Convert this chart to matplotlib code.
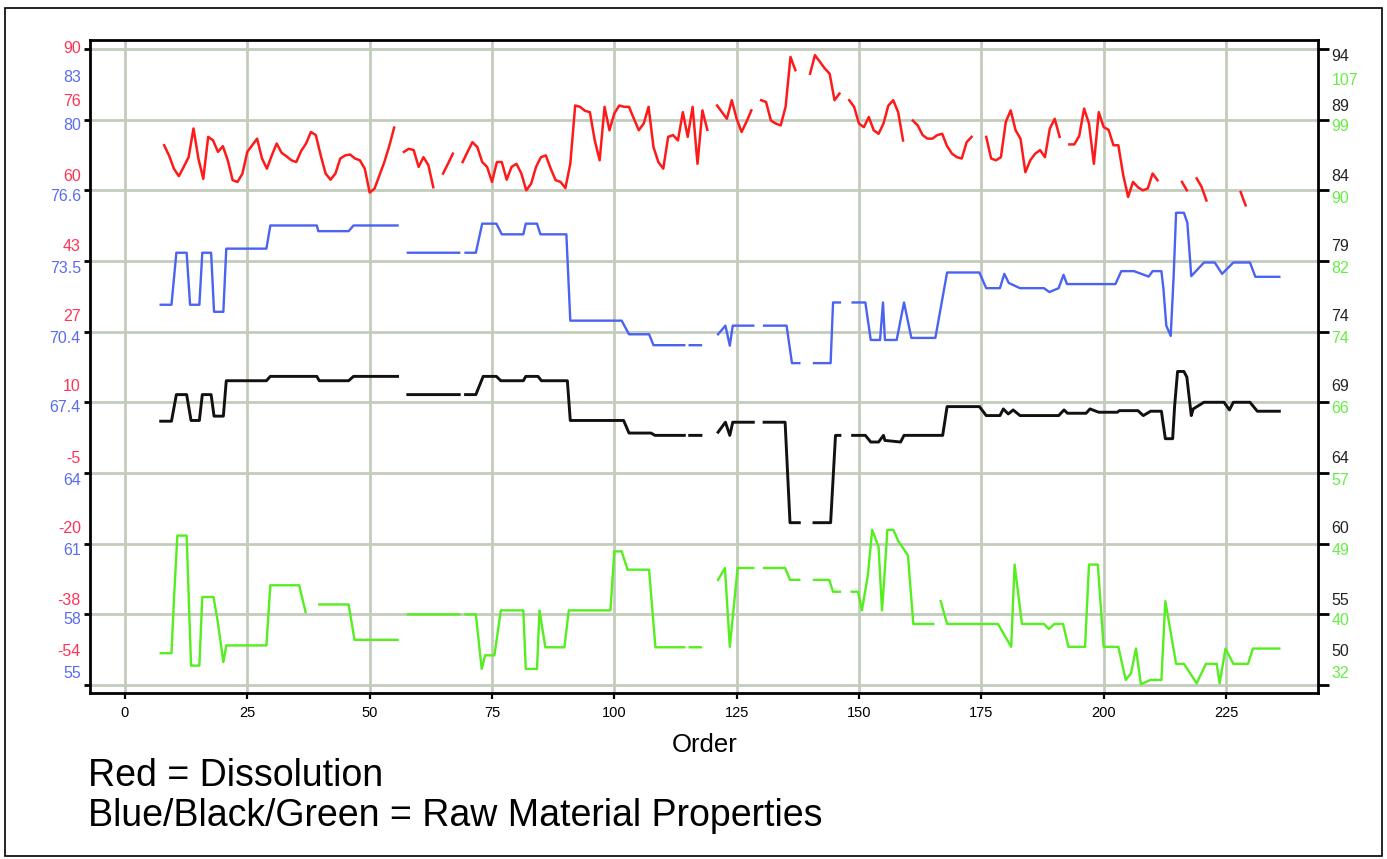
import numpy as np
import matplotlib.pyplot as plt
from matplotlib.patches import Rectangle
import matplotlib.transforms as mtransforms

plt.rcParams['font.family'] = ['Liberation Sans', 'DejaVu Sans']
nan = np.nan

# dissolution, one value per order (8 .. 229), nan = missing
red_order = np.arange(8, 230)
red_vals = [
    68.2, 65.9, 62.9, 61.2, 63.3, 65.5, 72.0, 65.2, 60.6, 70.1,   # 8-17
    69.3, 66.7, 68.0, 64.8, 60.3, 59.9, 61.8, 66.7, 68.2, 69.7,   # 18-27
    65.2, 62.9, 65.9, 68.6, 66.5, 65.7, 64.8, 64.4, 66.9, 68.6,   # 28-37
    71.2, 70.5, 65.9, 61.8, 60.4, 61.8, 65.2, 65.9, 66.1, 65.2,   # 38-47
    64.8, 62.9, 57.5, 58.4, 61.4, 64.4, 68.0, 72.2, nan, 66.7,    # 48-57
    67.4, 67.1, 63.3, 65.5, 63.7, 58.7, nan, 61.8, 64.0, 66.3,    # 58-67
    nan, 64.4, 66.7, 68.9, 67.8, 64.4, 63.3, 59.9, 64.4, 64.4,    # 68-77
    60.4, 63.3, 64.0, 61.8, 58.0, 59.5, 63.3, 65.5, 65.9, 62.9,   # 78-87
    60.3, 59.9, 58.5, 64.0, 77.2, 76.9, 76.0, 75.7, 69.3, 64.8,   # 88-97
    76.9, 71.6, 75.4, 77.2, 76.9, 76.9, 74.2, 71.6, 73.1, 76.9,   # 98-107
    67.8, 64.4, 62.9, 70.1, 70.5, 69.3, 75.7, 70.1, 76.9, 64.0,   # 108-117
    76.1, 71.7, nan, 77.2, 75.7, 74.2, 78.4, 74.2, 71.2, 73.5,    # 118-127
    76.1, nan, 78.4, 78.0, 73.8, 73.1, 72.7, 76.9, 88.2, 85.2,    # 128-137
    nan, nan, 84.4, 88.6, 87.1, 85.6, 84.4, 78.4, 79.9, nan,      # 138-147
    78.4, 76.9, 73.1, 72.3, 74.6, 71.6, 70.8, 73.1, 77.2, 78.4,   # 148-157
    75.7, 69.3, nan, 73.8, 72.7, 70.5, 69.7, 69.7, 70.5, 70.8,    # 158-167
    68.0, 66.3, 65.5, 65.2, 68.9, 70.1, nan, nan, 70.1, 65.2,     # 168-177
    64.8, 65.5, 73.5, 76.1, 71.6, 69.7, 62.1, 64.8, 66.3, 67.1,   # 178-187
    65.5, 72.0, 74.2, 70.1, nan, 68.4, 68.4, 70.3, 76.5, 73.1,    # 188-197
    64.0, 75.7, 72.3, 71.7, 68.2, 68.2, 61.4, 56.5, 59.9, 58.7,   # 198-207
    58.0, 58.4, 61.8, 60.3, nan, nan, nan, nan, 59.9, 58.0,       # 208-217
    nan, 60.7, 58.8, 55.7, nan, nan, nan, nan, nan, nan,          # 218-227
    57.6, 54.6,                                                   # 228-229
]

# raw material properties: breakpoints (order, value), nan = break
blue_x = [7.3, 9.5, 10.5, 12.6, 13.3, 15.2, 15.8, 17.6, 18.2, 20.1, 20.7, 28.9, 29.7, 39.2, 39.5, 45.7, 46.7, 55.7, nan,
          57.8, 68.3, nan,
          69.6, 71.7, 73.0, 75.9, 77.0, 81.4, 81.9, 84.2, 84.9, 90.2, 91.0, 101.5, 103.0, 107.1, 108.0, 114.3, nan,
          115.4, 117.7, nan,
          121.2, 122.7, 123.6, 124.2, 128.4, nan,
          130.6, 135.2, 136.3, 137.8, nan,
          140.8, 144.2, 144.7, 146.1, nan,
          148.7, 151.3, 152.4, 154.3, 154.9, 155.3, 157.7, 159.2, 160.7, 165.6, 168.0, 174.6, 176.0, 178.8,
          179.7, 180.6, 182.9, 187.8, 188.9, 190.8, 191.8, 192.5, 202.4, 203.6, 206.2, 209.2, 210.0, 211.8,
          212.2, 212.8, 213.7, 214.3, 214.8, 216.4, 217.1, 217.9, 220.5, 222.7, 224.2, 226.5, 229.9, 231.0, 235.9]
blue_y = [71.74, 71.74, 74.03, 74.03, 71.74, 71.74, 74.03, 74.03, 71.43, 71.43, 74.21, 74.21, 75.23, 75.23, 74.98, 74.98, 75.23, 75.23, nan,
          74.03, 74.03, nan,
          74.03, 74.03, 75.31, 75.31, 74.84, 74.84, 75.31, 75.31, 74.84, 74.84, 71.04, 71.04, 70.44, 70.44, 69.96, 69.96, nan,
          69.96, 69.96, nan,
          70.44, 70.82, 69.94, 70.82, 70.82, nan,
          70.82, 70.82, 69.17, 69.17, nan,
          69.17, 69.17, 71.84, 71.84, nan,
          71.84, 71.84, 70.19, 70.19, 71.84, 70.19, 70.19, 71.84, 70.28, 70.28, 73.16, 73.16, 72.47, 72.47,
          73.10, 72.70, 72.47, 72.47, 72.30, 72.47, 73.06, 72.65, 72.65, 73.22, 73.22, 72.98, 73.22, 73.22,
          72.47, 70.82, 70.37, 73.00, 75.79, 75.79, 75.35, 73.00, 73.60, 73.60, 73.10, 73.60, 73.60, 72.97, 72.97]

black_x = [7.3, 9.5, 10.5, 12.6, 13.5, 15.2, 15.8, 17.6, 18.2, 20.1, 20.7, 28.9, 29.7, 39.2, 39.7, 45.7, 46.7, 55.7, nan,
           57.8, 68.3, nan,
           69.6, 71.7, 73.2, 75.9, 76.8, 81.4, 81.9, 84.4, 85.1, 90.4, 91.0, 101.9, 103.0, 107.5, 108.3, 114.3, nan,
           115.4, 117.7, nan,
           121.2, 122.7, 123.6, 124.2, 128.4, nan,
           130.6, 134.9, 135.9, 137.8, nan,
           140.8, 144.2, 145.2, 146.1, nan,
           148.7, 151.3, 152.4, 154.0, 155.0, 155.3, 158.5, 159.2, 167.1, 168.0, 174.6, 176.0, 178.8, 179.5,
           180.5, 181.5, 182.9, 190.8, 191.9, 192.6, 196.4, 197.2, 199.0, 202.8, 203.2, 207.0, 208.1, 209.6,
           211.8, 212.6, 214.1, 214.5, 215.1, 216.4, 217.0, 217.9, 218.3, 220.5, 224.6, 225.7, 226.5, 229.9,
           231.4, 235.9]
black_y = [68.25, 68.25, 70.09, 70.09, 68.30, 68.30, 70.09, 70.09, 68.60, 68.60, 71.05, 71.05, 71.35, 71.35, 71.05, 71.05, 71.35, 71.35, nan,
           70.09, 70.09, nan,
           70.09, 70.09, 71.35, 71.35, 71.05, 71.05, 71.35, 71.35, 71.05, 71.05, 68.30, 68.30, 67.43, 67.43, 67.27, 67.27, nan,
           67.27, 67.27, nan,
           67.49, 68.18, 67.27, 68.18, 68.18, nan,
           68.18, 68.18, 61.23, 61.23, nan,
           61.23, 61.23, 67.27, 67.27, nan,
           67.27, 67.27, 66.81, 66.81, 67.27, 66.92, 66.81, 67.27, 67.27, 69.26, 69.26, 68.64, 68.64, 69.10,
           68.75, 69.03, 68.64, 68.64, 69.03, 68.80, 68.80, 69.10, 68.87, 68.87, 68.98, 68.98, 68.64, 68.94,
           68.94, 67.04, 67.04, 69.30, 71.69, 71.69, 71.30, 68.64, 69.10, 69.56, 69.56, 69.03, 69.56, 69.56,
           68.94, 68.94]

green_x = [7.3, 9.5, 10.0, 10.7, 12.6, 13.5, 15.2, 15.8, 18.1, 19.0, 20.1, 20.7, 28.9, 29.7, 35.6, 36.9, nan,
           39.7, 45.7, 46.9, 55.7, nan,
           57.8, 68.3, nan,
           69.6, 71.7, 72.9, 73.6, 75.5, 76.8, 81.4, 81.9, 84.2, 84.7, 85.9, 89.8, 90.7, 99.2, 100.0, 101.5,
           102.7, 107.1, 108.4, 114.3, nan,
           115.4, 117.7, nan,
           121.2, 122.6, 123.6, 125.2, 128.4, nan,
           130.6, 134.9, 135.9, 137.8, nan,
           140.8, 143.9, 144.7, 146.1, nan,
           148.5, 149.8, 150.6, 151.8, 152.7, 154.0, 154.7, 155.1, 155.8, 157.0, 158.1, 160.0, 161.1, 165.2, nan,
           166.7, 168.0, 178.4, 181.1, 181.8, 183.3, 187.8, 188.8, 189.9, 191.7, 192.8, 196.2, 197.0, 198.8,
           200.0, 203.0, 204.5, 205.6, 206.6, 207.6, 209.6, 211.8, 212.6, 214.8, 216.4, 219.0, 220.9, 223.1,
           223.7, 224.9, 226.5, 229.5, 230.5, 235.9]
green_y = [35.75, 35.75, 42.0, 49.62, 49.62, 34.29, 34.29, 42.38, 42.38, 39.3, 34.69, 36.67, 36.67, 43.76, 43.76, 40.6, nan,
           41.5, 41.5, 37.33, 37.33, nan,
           40.33, 40.33, nan,
           40.33, 40.33, 33.9, 35.5, 35.5, 40.8, 40.8, 33.9, 33.9, 40.8, 36.45, 36.45, 40.8, 40.8, 47.76, 47.76,
           45.6, 45.6, 36.45, 36.45, nan,
           36.45, 36.45, nan,
           44.4, 45.8, 36.5, 45.8, 45.8, nan,
           45.8, 45.8, 44.4, 44.4, nan,
           44.4, 44.4, 43.0, 43.0, nan,
           43.0, 43.0, 40.8, 44.9, 50.3, 48.3, 40.8, 44.0, 50.3, 50.3, 48.9, 47.3, 39.2, 39.2, nan,
           41.9, 39.2, 39.2, 36.5, 46.2, 39.2, 39.2, 38.6, 39.2, 39.2, 36.5, 36.5, 46.2, 46.2,
           36.5, 36.5, 32.6, 33.4, 36.3, 32.1, 32.6, 32.6, 41.9, 34.5, 34.5, 32.2, 34.5, 34.5,
           32.2, 36.3, 34.5, 34.5, 36.3, 36.3]

x_ticks = [0, 25, 50, 75, 100, 125, 150, 175, 200, 225]
red_labels = ["90", "76", "60", "43", "27", "10", "-5", "-20", "-38", "-54"]
blue_labels = ["83", "80", "76.6", "73.5", "70.4", "67.4", "64", "61", "58", "55"]
black_labels = ["94", "89", "84", "79", "74", "69", "64", "60", "55", "50"]
green_labels = ["107", "99", "90", "82", "74", "66", "57", "49", "40", "32"]

# each scale: value on the top grid line and range over the nine grid steps
scales = {"red": (90, 144), "blue": (83, 28), "black": (94, 44), "green": (107, 75)}
colors = {"red": "#ff1a1a", "blue": "#4a63f0", "black": "#111111", "green": "#55ee1e"}
label_colors = {"red": "#ff3355", "blue": "#5a6cf0", "black": "#222222", "green": "#66ee44"}

# label positions in grid units (0 = top grid line, 9 = bottom one)
left_red_pos = [0.0, 0.74, 1.80, 2.79, 3.79, 4.78, 5.79, 6.78, 7.80, 8.53]
left_blue_pos = [0.41, 1.08, 2.09, 3.10, 4.09, 5.08, 6.10, 7.09, 8.08, 8.83]
right_black_pos = [0.11, 0.81, 1.80, 2.80, 3.79, 4.78, 5.79, 6.78, 7.80, 8.53]
right_green_pos = [0.44, 1.10, 2.12, 3.10, 4.09, 5.09, 6.10, 7.09, 8.09, 8.83]

g_top, g_bot = -0.127, 9.113
grid_col = "#c3ccbc"

fig = plt.figure(figsize=(13.87, 8.59), dpi=100)
ax = fig.add_axes([90 / 1387, 1 - 693 / 859, 1228 / 1387, 653 / 859])
ax.set_xlim(-7.15, 243.8)
ax.set_ylim(g_bot, g_top)
ax.set_yticks(range(10))
ax.set_xticks(x_ticks)
ax.grid(True, color=grid_col, lw=2)
ax.tick_params(axis='y', left=True, right=False, labelleft=False, length=4.5, width=2)
ax.tick_params(axis='x', length=4.5, width=1.6, pad=5, labelsize=10.5)
for s in ax.spines.values():
    s.set_linewidth(2)

twins = {}
for name in ["red", "blue", "black", "green"]:
    top, span = scales[name]
    step = span / 9
    tw = ax.twinx()
    tw.set_ylim(top - step * g_bot, top - step * g_top)
    for s in tw.spines.values():
        s.set_visible(False)
    tw.set_yticks([])
    twins[name] = tw

# right hand ticks at the grid lines
tg = twins["green"]
tg.set_yticks([scales["green"][0] - scales["green"][1] / 9 * g for g in range(10)])
tg.tick_params(axis='y', right=True, labelright=False, length=8, width=2)

twins["red"].plot(red_order, red_vals, color=colors["red"], lw=1.8)
twins["blue"].plot(blue_x, blue_y, color=colors["blue"], lw=1.7)
twins["black"].plot(black_x, black_y, color=colors["black"], lw=2.1)
twins["green"].plot(green_x, green_y, color=colors["green"], lw=1.7)

trans = mtransforms.blended_transform_factory(ax.transAxes, ax.transData)
for lab, pos in zip(red_labels, left_red_pos):
    ax.text(-0.0075, pos, lab, transform=trans, ha='right', va='center', fontsize=11.5, color=label_colors["red"])
for lab, pos in zip(blue_labels, left_blue_pos):
    ax.text(-0.0075, pos, lab, transform=trans, ha='right', va='center', fontsize=11.5, color=label_colors["blue"])
for lab, pos in zip(black_labels, right_black_pos):
    ax.text(1.011, pos, lab, transform=trans, ha='left', va='center', fontsize=11.5, color=label_colors["black"])
for lab, pos in zip(green_labels, right_green_pos):
    ax.text(1.011, pos, lab, transform=trans, ha='left', va='center', fontsize=11.5, color=label_colors["green"])

fig.text(705 / 1387, 1 - 752 / 859, "Order", ha='center', va='baseline', fontsize=18.5)
fig.text(88 / 1387, 1 - 786 / 859, "Red = Dissolution", ha='left', va='baseline', fontsize=27)
fig.text(88 / 1387, 1 - 826 / 859, "Blue/Black/Green = Raw Material Properties", ha='left', va='baseline', fontsize=27)

fig.patches.append(Rectangle((5 / 1387, 1 - 856 / 859), 1377 / 1387, 848 / 859, transform=fig.transFigure,
                             fill=False, edgecolor='black', lw=1.2))

fig.savefig("out.png", dpi=100)
